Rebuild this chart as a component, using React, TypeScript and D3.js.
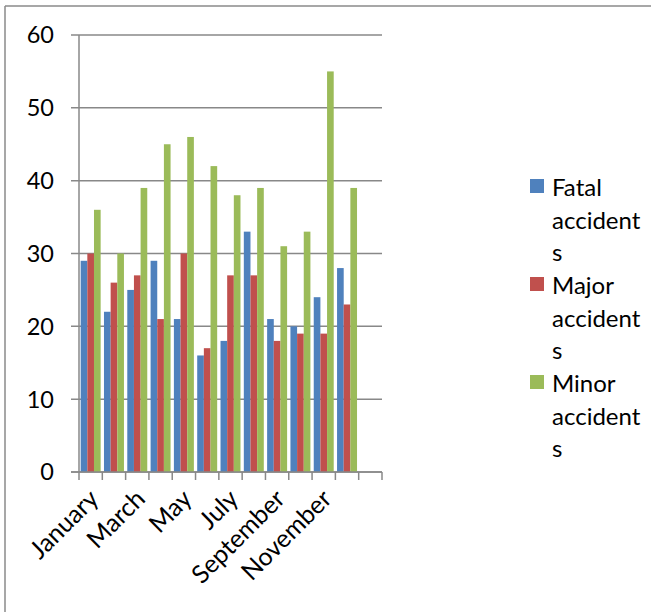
import React from "react";
import * as d3 from "d3";

const months = ["January", "February", "March", "April", "May", "June", "July", "August", "September", "October", "November", "December", ""];
const seriesNames = ["Fatal accidents", "Major accidents", "Minor accidents"];
const legendLines = [["Fatal", "accident", "s"], ["Major", "accident", "s"], ["Minor", "accident", "s"]];
const fatal = [29, 22, 25, 29, 21, 16, 18, 33, 21, 20, 24, 28];
const major = [30, 26, 27, 21, 30, 17, 27, 27, 18, 19, 19, 23];
const minor = [36, 30, 39, 45, 46, 42, 38, 39, 31, 33, 55, 39];
const colors = ["#4F81BD", "#C0504D", "#9BBB59"];
const yTicks = [0, 10, 20, 30, 40, 50, 60];

const W = 651, H = 612;
const plotLeft = 79, plotRight = 382, plotTop = 35, plotBottom = 472;
const FONT = "Lato, 'Liberation Sans', sans-serif";

export default function App() {
  const x = d3.scaleBand<string>().domain(months.map((m, i) => String(i))).range([plotLeft, plotRight]).paddingInner(0).paddingOuter(0);
  const inner = d3.scaleBand<number>().domain([0, 1, 2]).range([0, x.bandwidth()]).paddingInner(0).paddingOuter(0.25);
  const y = d3.scaleLinear().domain([0, 60]).range([plotBottom, plotTop]);
  const data = [fatal, major, minor];
  const bw = x.bandwidth();

  return (
    <svg width={W} height={H} style={{ position: "fixed", left: 0, top: 0, background: "#fff" }} fontFamily={FONT}>
      <rect x={0} y={0} width={W} height={H} fill="#fff" />
      {/* outer frame */}
      <line x1={5} y1={6} x2={W} y2={6} stroke="#8a8a8a" strokeWidth={1.5} />
      <line x1={5} y1={6} x2={5} y2={H} stroke="#8a8a8a" strokeWidth={1.5} />
      {/* gridlines */}
      {yTicks.map((t) => (
        <line key={"g" + t} x1={plotLeft - 8} x2={plotRight} y1={y(t)} y2={y(t)} stroke="#888" strokeWidth={1.5} />
      ))}
      {yTicks.map((t) => (
        <text key={"yl" + t} x={54} y={y(t)} dy="0.36em" textAnchor="end" fontSize={23.5} fill="#000">{t}</text>
      ))}
      {/* bars */}
      {data.map((vals, s) =>
        vals.map((v, i) => (
          <rect key={s + "-" + i} x={(x(String(i)) as number) + (inner(s) as number)} width={inner.bandwidth()} y={y(v)} height={y(0) - y(v)} fill={colors[s]} />
        ))
      )}
      {/* axes */}
      <line x1={plotLeft} x2={plotLeft} y1={plotTop} y2={plotBottom} stroke="#888" strokeWidth={1.5} />
      <line x1={plotLeft - 8} x2={plotRight} y1={plotBottom} y2={plotBottom} stroke="#888" strokeWidth={1.5} />
      {d3.range(months.length + 1).map((i) => (
        <line key={"xt" + i} x1={plotLeft + i * bw} x2={plotLeft + i * bw} y1={plotBottom} y2={plotBottom + 8} stroke="#888" strokeWidth={1.5} />
      ))}
      {months.map((m, i) => i % 2 === 0 && m ? (
        <text key={"xl" + i} transform={`translate(${(x(String(i)) as number) + bw / 2 - 3},${plotBottom + 16}) rotate(-45)`} textAnchor="end" dy="0.7em" fontSize={25} fill="#000">{m}</text>
      ) : null)}
      {/* legend */}
      {seriesNames.map((n, s) => (
        <g key={"lg" + s}>
          <rect x={530} y={179 + s * 98} width={14} height={14} fill={colors[s]} />
          {legendLines[s].map((ln, j) => (
            <text key={j} x={552} y={196 + s * 98 + j * 32.7} fontSize={24} fill="#000">{ln}</text>
          ))}
        </g>
      ))}
    </svg>
  );
}
